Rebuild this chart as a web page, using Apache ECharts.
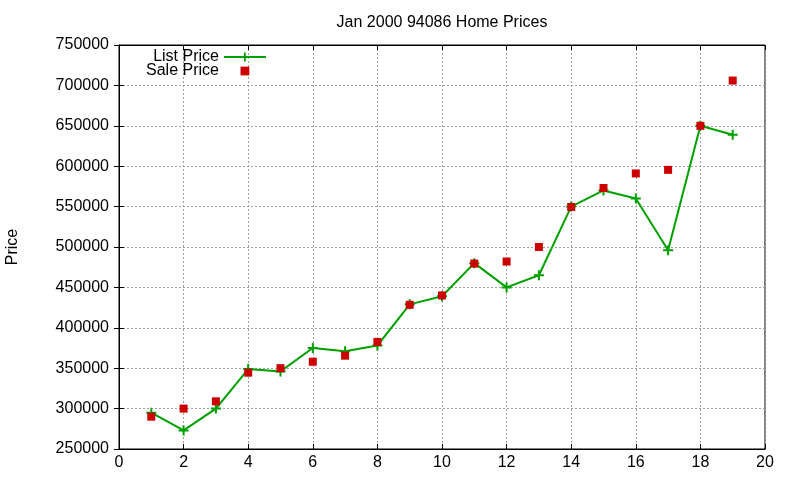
<!DOCTYPE html>
<html>
<head>
<meta charset="utf-8">
<script src="https://cdn.jsdelivr.net/npm/echarts@6/dist/echarts.min.js"></script>
<style>
  html, body { margin: 0; padding: 0; background: #fff; }
  #main { width: 800px; height: 480px; }
</style>
</head>
<body>
<div id="main"></div>
<script>
// values
var months = [1, 2, 3, 4, 5, 6, 7, 8, 9, 10, 11, 12, 13, 14, 15, 16, 17, 18, 19];
var listPrice = [295000, 273000, 300000, 349000, 346000, 375000, 371000, 378000, 429000, 439000,
                 480000, 450000, 465000, 550000, 570000, 560000, 496000, 650000, 639000];
var salePrice = [290000, 300000, 309000, 344500, 350000, 358000, 365500, 382500, 428500, 440000,
                 479500, 482000, 500000, 549500, 573000, 591000, 595500, 650000, 706000];
var xTicks = { min: 0, max: 20, step: 2 };
var yTicks = { min: 250000, max: 750000, step: 50000 };

function pairs(xs, ys) {
    return xs.map(function (x, i) { return [x, ys[i]]; });
}

var font = 'Liberation Sans, Arial, sans-serif';
var plus = 'path://M4,0H6V4H10V6H6V10H4V6H0V4H4Z';

var myChart = echarts.init(document.getElementById('main'));

var dash = { show: true, lineStyle: { color: '#a0a0a0', type: [2, 2], width: 1 } };
var blackLine = { show: true, lineStyle: { color: '#000', width: 1 } };
var tickIn = { show: true, inside: true, length: 5, lineStyle: { color: '#000' } };

myChart.setOption({
    backgroundColor: '#fff',
    animation: false,
    textStyle: { fontFamily: font },
    title: {
        text: 'Jan 2000 94086 Home Prices',
        left: 442,
        top: 15,
        padding: 0,
        textAlign: 'center',
        textStyle: { fontFamily: font, fontSize: 16, fontWeight: 'normal', color: '#000' }
    },
    legend: {
        data: ['List Price', 'Sale Price'],
        orient: 'vertical',
        align: 'right',
        left: 146,
        top: 49,
        padding: 0,
        itemGap: -2,
        itemWidth: 42,
        itemHeight: 11,
        textStyle: { fontFamily: font, fontSize: 16, color: '#000' }
    },
    grid: {
        left: 119, right: 35, top: 45, bottom: 31,
        outerBoundsMode: 'none',
        containLabel: false,
        show: true, borderColor: '#000', borderWidth: 1
    },
    xAxis: [{
        type: 'value',
        min: xTicks.min, max: xTicks.max, interval: xTicks.step,
        axisLine: blackLine,
        axisTick: tickIn,
        axisLabel: { color: '#000', fontSize: 16, margin: 6, fontFamily: font },
        splitLine: dash
    }, {
        type: 'value', position: 'top',
        min: xTicks.min, max: xTicks.max, interval: xTicks.step,
        axisLine: blackLine,
        axisTick: tickIn,
        axisLabel: { show: false },
        splitLine: { show: false }
    }],
    yAxis: [{
        type: 'value',
        min: yTicks.min, max: yTicks.max, interval: yTicks.step,
        name: 'Price',
        nameLocation: 'middle',
        nameGap: 98,
        nameTextStyle: { color: '#000', fontSize: 16, fontFamily: font },
        axisLine: blackLine,
        axisTick: tickIn,
        axisLabel: {
            color: '#000', fontSize: 16, margin: 10, fontFamily: font,
            formatter: function (v) { return String(v); }
        },
        splitLine: dash
    }, {
        type: 'value', position: 'right',
        min: yTicks.min, max: yTicks.max, interval: yTicks.step,
        axisLine: blackLine,
        axisTick: tickIn,
        axisLabel: { show: false },
        splitLine: { show: false }
    }],
    series: [{
        name: 'List Price',
        type: 'line',
        data: pairs(months, listPrice),
        symbol: plus,
        symbolSize: 10,
        color: '#00a000',
        itemStyle: { color: '#00a000' },
        lineStyle: { color: '#00a000', width: 2 }
    }, {
        name: 'Sale Price',
        type: 'line',
        data: pairs(months, salePrice),
        symbol: 'rect',
        symbolSize: 8,
        color: '#cc0000',
        itemStyle: { color: '#cc0000' },
        lineStyle: { opacity: 0 }
    }]
});
</script>
</body>
</html>
